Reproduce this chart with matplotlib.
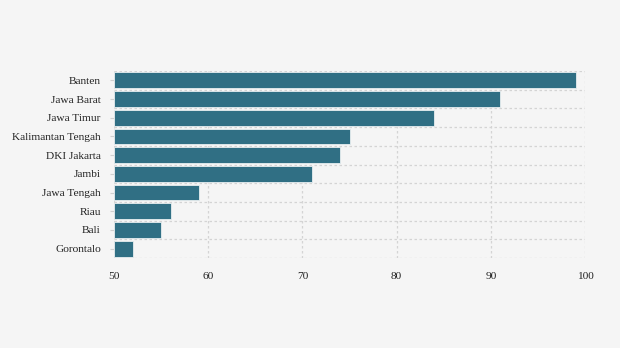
import numpy as np
import matplotlib.pyplot as plt

# provinces, top to bottom
provinces = ["Banten", "Jawa Barat", "Jawa Timur", "Kalimantan Tengah", "DKI Jakarta",
             "Jambi", "Jawa Tengah", "Riau", "Bali", "Gorontalo"]
values = [99, 91, 84, 75, 74, 71, 59, 56, 55, 52]
xticks = [50, 60, 70, 80, 90, 100]

plt.rcParams['font.family'] = ['Liberation Serif', 'DejaVu Serif']

fig = plt.figure(figsize=(6.2, 3.48), dpi=100, facecolor="#f5f5f5")
ax = fig.add_axes([114/620, 1-258/348, (585-114)/620, (258-71)/348])
ax.set_facecolor("#f5f5f5")

n = len(provinces)
pos = np.arange(n)[::-1]
ax.barh(pos, [v - xticks[0] for v in values], left=xticks[0], height=0.84,
        color="#306f84", edgecolor="#e8eef0", linewidth=0.6, zorder=2)

ax.set_xlim(xticks[0], xticks[-1])
ax.set_ylim(-0.5, n - 0.5)
ax.set_xticks(xticks)
ax.set_xticklabels([str(t) for t in xticks])
ax.set_yticks(pos)
ax.set_yticklabels(provinces)
ax.set_yticks(np.arange(-0.5, n, 1.0), minor=True)

ax.grid(which="minor", axis="y", color="#d4d4d4", linestyle=(0, (2, 2)), linewidth=0.9, zorder=0)
ax.grid(which="major", axis="x", color="#d4d4d4", linestyle=(0, (2, 2)), linewidth=0.9, zorder=0)
ax.tick_params(axis="y", which="major", length=3, color="#d0d0d0", pad=6.5, labelsize=8.2, labelcolor="#222222")
ax.tick_params(axis="y", which="minor", length=0)
ax.tick_params(axis="x", length=0, pad=10, labelsize=8.2, labelcolor="#222222")
for s in ax.spines.values():
    s.set_visible(False)

fig.savefig("out.png", dpi=100, facecolor=fig.get_facecolor())
